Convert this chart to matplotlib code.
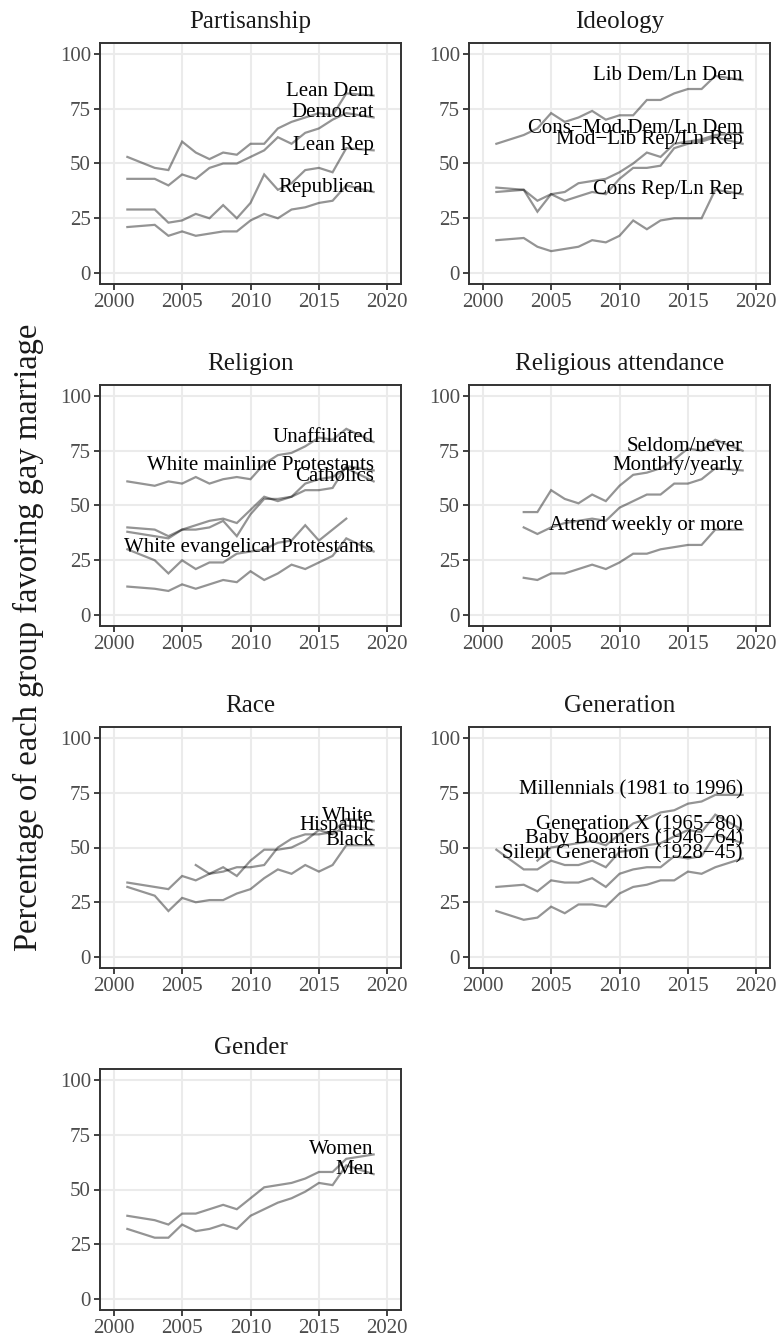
import matplotlib
matplotlib.use("Agg")
import matplotlib.pyplot as plt

plt.rcParams['font.family'] = ['Liberation Serif', 'DejaVu Serif']

# survey years (no 2002, no 2018)
years = [2001, 2003, 2004, 2005, 2006, 2007, 2008, 2009, 2010,
         2011, 2012, 2013, 2014, 2015, 2016, 2017, 2019]
years_from_2003 = years[1:]
years_from_2004 = years[2:]
years_from_2006 = years[4:]
years_to_2017 = years[:-1]

# Partisanship
lean_dem = [53, 48, 47, 60, 55, 52, 55, 54, 59, 59, 66, 69, 71, 73, 72, 82, 81]
democrat = [43, 43, 40, 45, 43, 48, 50, 50, 53, 56, 62, 59, 64, 66, 70, 73, 71]
lean_rep = [29, 29, 23, 24, 27, 25, 31, 25, 32, 45, 38, 41, 47, 48, 46, 57, 56]
republican = [21, 22, 17, 19, 17, 18, 19, 19, 24, 27, 25, 29, 30, 32, 33, 40, 37]

# Ideology
lib_dem = [59, 63, 66, 73, 69, 71, 74, 70, 72, 72, 79, 79, 82, 84, 84, 90, 88]
cons_mod_dem = [37, 38, 33, 36, 37, 41, 42, 43, 46, 50, 55, 53, 59, 60, 61, 63, 64]
mod_lib_rep = [39, 38, 28, 36, 33, 35, 37, 36, 43, 48, 48, 49, 57, 59, 60, 62, 59]
cons_rep = [15, 16, 12, 10, 11, 12, 15, 14, 17, 24, 20, 24, 25, 25, 25, 38, 36]

# Religion
unaffiliated = [61, 59, 61, 60, 63, 60, 62, 63, 62, 69, 73, 74, 77, 81, 80, 85, 79]
mainline = [38, 36, 35, 39, 39, 40, 43, 36, 46, 53, 53, 54, 57, 57, 58, 68, 66]
catholics = [40, 39, 36, 39, 41, 43, 44, 42, 48, 54, 52, 54, 60, 62, 63, 67, 61]
evangelical = [13, 12, 11, 14, 12, 14, 16, 15, 20, 16, 19, 23, 21, 24, 27, 35, 29]
black_prot = [30, 25, 19, 25, 21, 24, 24, 28, 29, 30, 33, 34, 41, 34, 39, 44]

# Religious attendance (from 2003)
seldom = [47, 47, 57, 53, 51, 55, 52, 59, 64, 65, 67, 71, 76, 75, 80, 75]
monthly = [40, 37, 40, 42, 43, 44, 43, 49, 52, 55, 55, 60, 60, 62, 67, 66]
weekly = [17, 16, 19, 19, 21, 23, 21, 24, 28, 28, 30, 31, 32, 32, 39, 39]

# Race
white = [34, 32, 31, 37, 35, 38, 39, 41, 41, 42, 50, 54, 56, 56, 57, 63, 62]
hispanic = [42, 38, 41, 37, 44, 49, 49, 50, 53, 58, 56, 60, 58]
black = [32, 28, 21, 27, 25, 26, 26, 29, 31, 36, 40, 38, 42, 39, 42, 51, 51]

# Generation
millennials = [44, 50, 51, 52, 53, 51, 56, 61, 63, 66, 67, 70, 71, 74, 74]
gen_x = [49, 40, 40, 44, 42, 42, 44, 41, 48, 49, 51, 52, 55, 58, 57, 65, 58]
boomers = [32, 33, 30, 35, 34, 34, 36, 32, 38, 40, 41, 41, 46, 45, 46, 56, 52]
silent = [21, 17, 18, 23, 20, 24, 24, 23, 29, 32, 33, 35, 35, 39, 38, 41, 45]

# Gender
women = [38, 36, 34, 39, 39, 41, 43, 41, 46, 51, 52, 53, 55, 58, 58, 64, 66]
men = [32, 28, 28, 34, 31, 32, 34, 32, 38, 41, 44, 46, 49, 53, 52, 61, 57]

panels = [
    ("Partisanship", [
        (years, lean_dem, "Lean Dem"),
        (years, democrat, "Democrat"),
        (years, lean_rep, "Lean Rep"),
        (years, republican, "Republican"),
    ]),
    ("Ideology", [
        (years, lib_dem, "Lib Dem/Ln Dem"),
        (years, cons_mod_dem, "Cons\u2212Mod.Dem/Ln Dem"),
        (years, mod_lib_rep, "Mod\u2212Lib Rep/Ln Rep"),
        (years, cons_rep, "Cons Rep/Ln Rep"),
    ]),
    ("Religion", [
        (years, unaffiliated, "Unaffiliated"),
        (years, mainline, "White mainline Protestants"),
        (years, catholics, "Catholics"),
        (years, evangelical, "White evangelical Protestants"),
        (years_to_2017, black_prot, None),
    ]),
    ("Religious attendance", [
        (years_from_2003, seldom, "Seldom/never"),
        (years_from_2003, monthly, "Monthly/yearly"),
        (years_from_2003, weekly, "Attend weekly or more"),
    ]),
    ("Race", [
        (years, white, "White"),
        (years_from_2006, hispanic, "Hispanic"),
        (years, black, "Black"),
    ]),
    ("Generation", [
        (years_from_2004, millennials, "Millennials (1981 to 1996)"),
        (years, gen_x, "Generation X (1965\u221280)"),
        (years, boomers, "Baby Boomers (1946\u221264)"),
        (years, silent, "Silent Generation (1928\u221245)"),
    ]),
    ("Gender", [
        (years, women, "Women"),
        (years, men, "Men"),
    ]),
]

W, H = 783, 1344
fig = plt.figure(figsize=(W / 100, H / 100), dpi=100)

col_x = [100, 469]
row_top = [43, 385, 727, 1069]
pw, ph = 301, 241

for i, (name, series) in enumerate(panels):
    r, c = divmod(i, 2)
    ax = fig.add_axes([col_x[c] / W, 1 - (row_top[r] + ph) / H, pw / W, ph / H])
    for xs, ys, lab in series:
        ax.plot(xs, ys, color='black', alpha=0.42, lw=1.6, solid_joinstyle='miter')
    for xs, ys, lab in series:
        if lab is not None and xs[-1] == 2019:
            ax.text(2019, ys[-1], lab, ha='right', va='baseline',
                    fontsize=15, color='black')
    ax.set_xlim(1999, 2021)
    ax.set_ylim(-5, 105)
    ax.set_xticks([2000, 2005, 2010, 2015, 2020])
    ax.set_yticks([0, 25, 50, 75, 100])
    ax.grid(True, color='#EBEBEB', lw=1.5)
    ax.set_axisbelow(True)
    ax.tick_params(length=4.5, width=1.3, color='#333333', labelcolor='#4D4D4D',
                   labelsize=15, pad=2)
    for sp in ax.spines.values():
        sp.set_color('#333333')
        sp.set_linewidth(1.4)
    ax.set_title(name, fontsize=18, pad=11, color='#1A1A1A')

fig.text(28 / W, 1 - 637 / H, "Percentage of each group favoring gay marriage",
         rotation=90, ha='center', va='center', fontsize=23.5, color='#1A1A1A')

fig.savefig("out.png", dpi=100)
